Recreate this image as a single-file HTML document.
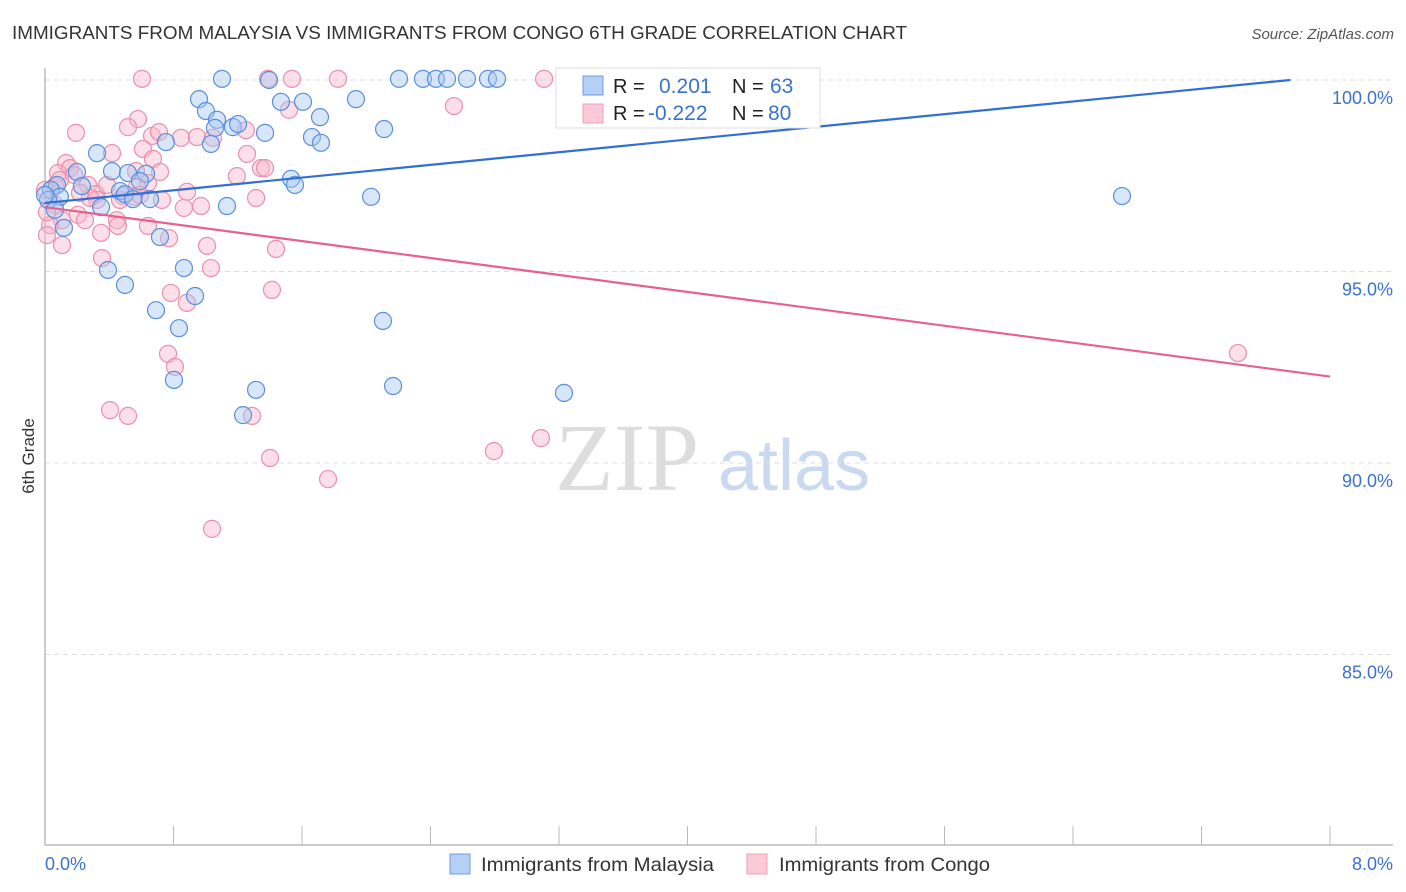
<!DOCTYPE html>
<html><head><meta charset="utf-8"><style>
body{margin:0;background:#fff;font-family:"Liberation Sans",sans-serif;}
svg{display:block}
</style></head><body>
<svg id="chart" width="1406" height="892" xmlns="http://www.w3.org/2000/svg">
<text x="12" y="39" font-size="18.8" fill="#333" textLength="895" lengthAdjust="spacingAndGlyphs">IMMIGRANTS FROM MALAYSIA VS IMMIGRANTS FROM CONGO 6TH GRADE CORRELATION CHART</text>
<text x="1394" y="39" font-size="15" fill="#555" font-style="italic" text-anchor="end">Source: ZipAtlas.com</text>
<text x="34" y="456" font-size="17" fill="#333" text-anchor="middle" transform="rotate(-90 34 456)">6th Grade</text>
<g><text x="555" y="490" font-size="96" fill="#ddd" font-family="Liberation Serif,serif">ZIP</text><text x="718" y="490" font-size="72" fill="#c9d9f0">atlas</text></g>
<g id="grid"></g><g id="axes"></g><g id="pts"></g><g id="lines"></g>
<g>
<rect x="556" y="68" width="264" height="60" fill="#fff" stroke="#ddd"/>
<rect x="583" y="76" width="20" height="19" fill="#b5d0f4" stroke="#6d9de0"/>
<rect x="583" y="104" width="20" height="19" fill="#fbc9d8" stroke="#f0a0b8"/>
<text x="613" y="93" font-size="20" fill="#222">R = </text><text x="659" y="93" font-size="21" fill="#3a72d0">0.201</text>
<text x="732" y="93" font-size="20" fill="#222">N = </text><text x="770" y="93" font-size="21" fill="#3a72d0">63</text>
<text x="613" y="120" font-size="20" fill="#222">R = </text><text x="648" y="120" font-size="21" fill="#3a72d0">-0.222</text>
<text x="732" y="120" font-size="20" fill="#222">N = </text><text x="768" y="120" font-size="21" fill="#3a72d0">80</text>
</g>
<g>
<rect x="450" y="854" width="20" height="20" fill="#b5d0f4" stroke="#6d9de0"/>
<text x="481" y="871" font-size="19.8" fill="#333" textLength="233" lengthAdjust="spacingAndGlyphs">Immigrants from Malaysia</text>
<rect x="747" y="854" width="20" height="20" fill="#fbc9d8" stroke="#f0a0b8"/>
<text x="779" y="871" font-size="19.8" fill="#333" textLength="211" lengthAdjust="spacingAndGlyphs">Immigrants from Congo</text>
</g>
</svg>
<script>
const bluePx=[[222,79],[269,80],[399,79],[423,79],[436,79],[447,79],[467,79],[488,79],[497,79],[592,80],[199,99],[281,102],[303,102],[356,99],[206,111],[217,120],[320,117],[215,128],[233,127],[238,124],[265,133],[384,129],[312,137],[321,143],[166,142],[211,144],[97,153],[57,185],[51,190],[60,197],[77,172],[112,171],[128,173],[146,174],[140,181],[82,186],[120,191],[125,194],[150,199],[133,199],[227,206],[291,179],[295,185],[371,197],[1122,196],[101,207],[64,228],[160,237],[108,270],[184,268],[125,285],[195,296],[156,310],[179,328],[383,321],[174,380],[256,390],[393,386],[564,393],[243,415],[48,200],[55,210],[45,195]];
const pinkPx=[[142,79],[268,79],[292,79],[338,79],[544,79],[454,106],[289,110],[76,133],[138,119],[128,127],[152,136],[159,132],[181,138],[197,137],[246,130],[261,168],[247,154],[213,138],[112,153],[143,149],[153,159],[66,163],[70,168],[58,173],[55,186],[74,175],[88,185],[96,194],[107,185],[123,196],[136,171],[160,172],[148,183],[137,187],[134,197],[140,195],[162,200],[187,192],[184,208],[201,206],[237,176],[256,198],[265,168],[78,215],[62,220],[50,225],[47,235],[62,245],[101,233],[117,220],[118,226],[148,226],[169,238],[102,258],[207,246],[211,268],[276,249],[272,290],[171,293],[187,303],[168,354],[175,367],[110,410],[128,416],[252,416],[270,458],[328,479],[494,451],[541,438],[212,529],[1238,353],[97,200],[90,198],[80,193],[55,205],[47,212],[60,180],[85,220],[120,200],[45,190]];
const toX=p=>+((p-45)/1285*8).toFixed(3), toY=p=>+(100-(p-80)/38.3).toFixed(2);
const malaysiaX=bluePx.map(p=>toX(p[0])), malaysiaY=bluePx.map(p=>toY(p[1]));
const congoX=pinkPx.map(p=>toX(p[0])), congoY=pinkPx.map(p=>toY(p[1]));
const yTicks=[100,95,90,85];
const yTickLabels=["100.0%","95.0%","90.0%","85.0%"];
const xTickVals=[0,0.8,1.6,2.4,3.2,4,4.8,5.6,6.4,7.2,8];
const trendMalaysia=[96.79,0.414];
const trendCongo=[96.68,-0.553];

const NS="http://www.w3.org/2000/svg";
const sx=v=>45+v/8*1285, sy=v=>80+(100-v)*38.3;
function mk(tag,attrs,parent){const e=document.createElementNS(NS,tag);for(const k in attrs)e.setAttribute(k,attrs[k]);parent.appendChild(e);return e;}
const grid=document.getElementById('grid'),axes=document.getElementById('axes'),pts=document.getElementById('pts'),lines=document.getElementById('lines');
yTicks.forEach((t,i)=>{
 const l=mk('line',{x1:45,x2:1393,y1:sy(t),y2:sy(t),stroke:'#ddd','stroke-dasharray':'5,4'},grid);
 
 
 const tx=mk('text',{x:1393,y:sy(t)+24,'font-size':18,fill:'#3a72d0','text-anchor':'end'},grid);
 tx.textContent=yTickLabels[i];
 
 
});
const ax=mk('line',{x1:45,x2:45,y1:68,y2:845,stroke:'#bbb','stroke-width':1.5},axes);


const bx=mk('line',{x1:45,x2:1393,y1:845,y2:845,stroke:'#bbb','stroke-width':1.5},axes);


xTickVals.forEach(v=>{
 const t=mk('line',{x1:sx(v),x2:sx(v),y1:826,y2:845,stroke:'#bbb'},axes);
 
 
});
[[0,"0.0%","start",45],[8,"8.0%","end",1393]].forEach(d=>{
 const t=mk('text',{x:d[3],y:870,'font-size':18,fill:'#3a72d0','text-anchor':d[2]},axes);
 t.textContent=d[1];
 
 
});
function drawPts(X,Y,fill,stroke,name){X.forEach((x,i)=>{
 const c=mk('circle',{cx:sx(x),cy:sy(Y[i]),r:8.5,fill:fill,'fill-opacity':0.45,stroke:stroke,'stroke-width':1.2},pts);
 
 
});}
drawPts(congoX,congoY,'#f9b9cc','#ec8fab','point-congo');
drawPts(malaysiaX,malaysiaY,'#a9c8f2','#5a8fdc','point-malaysia');
function trend(tr,color,name){
 let x2=8,y2=tr[0]+tr[1]*8;
 if(y2>100){x2=(100-tr[0])/tr[1];y2=100;}
 const l=mk('line',{x1:sx(0),y1:sy(tr[0]),x2:sx(x2),y2:sy(y2),stroke:color,'stroke-width':2.2},lines);
 
 
}
trend(trendMalaysia,'#2f6fd6','trendline-malaysia');
trend(trendCongo,'#e8608e','trendline-congo');
</script>
</body></html>
